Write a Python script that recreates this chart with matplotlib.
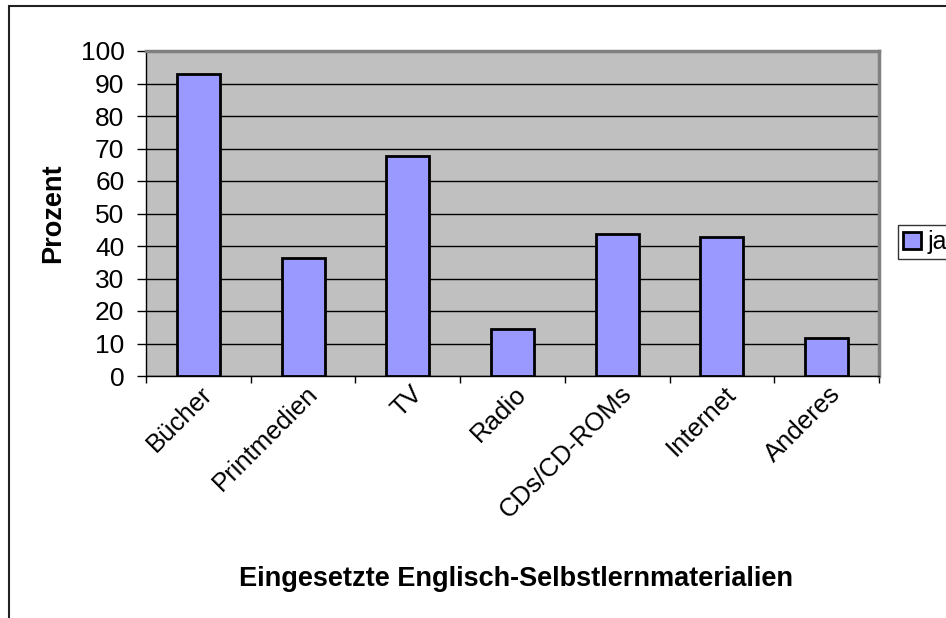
import matplotlib
matplotlib.use("Agg")
import matplotlib.pyplot as plt
from matplotlib.patches import Rectangle
import numpy as np

categories = ["Bücher", "Printmedien", "TV", "Radio", "CDs/CD-ROMs", "Internet", "Anderes"]
values_ja = [92.8, 36.4, 67.6, 14.6, 43.7, 42.7, 11.8]
yticks = [0, 10, 20, 30, 40, 50, 60, 70, 80, 90, 100]
series_name = "ja"
xlabel = "Eingesetzte Englisch-Selbstlernmaterialien"
ylabel = "Prozent"

plt.rcParams['font.family'] = ['Liberation Sans', 'DejaVu Sans']

W, H = 946, 618
fig = plt.figure(figsize=(W / 100, H / 100), dpi=100)

def fx(px):
    return px / W

def fy(py):
    return 1 - py / H

# outer frame (extends beyond the image at right/bottom)
fig.patches.append(Rectangle((fx(8.5), fy(700)), fx(1100), fy(6.5) - fy(700),
                             transform=fig.transFigure, fill=False,
                             edgecolor='#222222', linewidth=1.5))

left, right, top, bottom = 146, 879, 51, 376
ax = fig.add_axes([fx(left), fy(bottom), fx(right - left), fy(top) - fy(bottom)])
ax.set_facecolor('#C0C0C0')

x = np.arange(len(categories))
bars = ax.bar(x, values_ja, width=0.41, color='#9999FF', edgecolor='black',
              linewidth=2.0, label=series_name, zorder=3)

ax.set_xlim(-0.5, len(categories) - 0.5)
ax.set_ylim(0, 100)
ax.set_yticks(yticks)
ax.set_yticklabels([str(v) for v in yticks], fontsize=19)
ax.yaxis.grid(True, color='black', linewidth=1.0, zorder=1)
ax.set_axisbelow(True)

# x ticks at category boundaries
ax.set_xticks(np.arange(len(categories) + 1) - 0.5)
ax.set_xticklabels([])
ax.tick_params(axis='x', length=5, width=1, color='black', direction='out')
ax.tick_params(axis='y', length=6.5, width=1, color='black', direction='out', pad=9)

for i, c in enumerate(categories):
    ax.annotate(c, xy=(i, 0), xycoords='data', xytext=(1.5, -4),
                textcoords='offset points', rotation=45, ha='right', va='top',
                rotation_mode='anchor', fontsize=18.5)

for side in ['top', 'right']:
    ax.spines[side].set_color('#808080')
    ax.spines[side].set_linewidth(2.5)
ax.spines['left'].set_color('black')
ax.spines['bottom'].set_color('black')
ax.spines['left'].set_linewidth(1.0)
ax.spines['bottom'].set_linewidth(1.0)

fig.text(fx(53), fy(213), ylabel, fontsize=19.5, fontweight='bold', rotation=90,
         ha='center', va='center')
fig.text(fx(516), fy(579), xlabel, fontsize=19.5, fontweight='bold', ha='center', va='center')

leg = fig.legend(handles=[bars], labels=[series_name], loc='upper left',
                 bbox_to_anchor=(fx(898), fy(225)), fontsize=18,
                 frameon=True, fancybox=False, borderpad=0.2,
                 handlelength=0.7, handleheight=0.7, handletextpad=0.3,
                 borderaxespad=0)
leg.get_frame().set_edgecolor('black')
leg.get_frame().set_linewidth(1.0)

fig.savefig('out.png', dpi=100)
